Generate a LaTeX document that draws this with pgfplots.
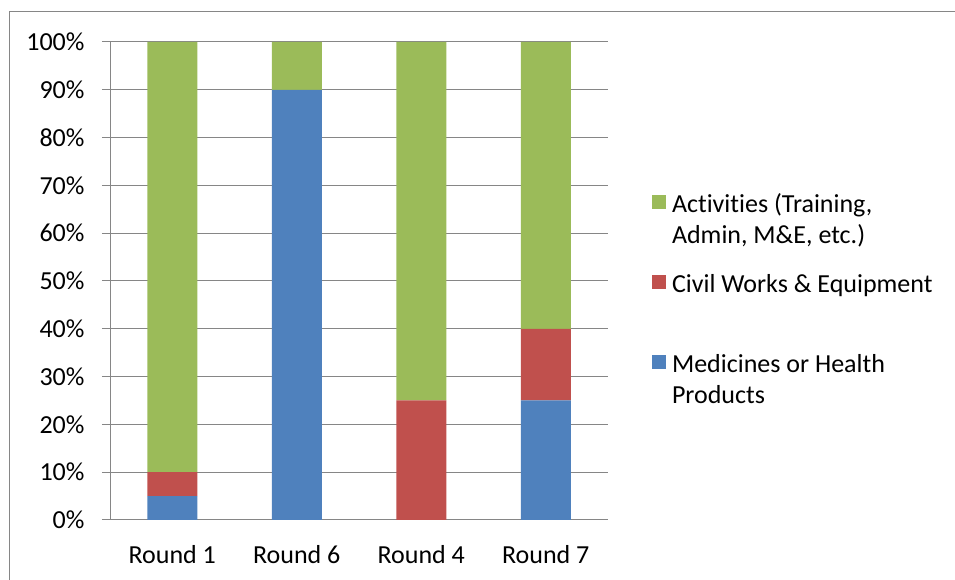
\documentclass[border=0pt]{standalone}
\usepackage{fontspec}
\setmainfont{Carlito}[RawFeature={-liga;-clig;-calt;-dlig}]
\usepackage{pgfplots}
\pgfplotsset{compat=1.18}
\definecolor{cblue}{HTML}{4F81BD}
\definecolor{cred}{HTML}{C0504D}
\definecolor{cgreen}{HTML}{9BBB59}
\definecolor{cgrid}{HTML}{868686}
\newcommand{\fs}{\fontsize{26}{31.7}\selectfont}
\begin{document}
\begin{tikzpicture}
\useasboundingbox (0,0) rectangle (955pt,580pt);
\begin{axis}[
  at={(110pt,60pt)}, anchor=south west,
  scale only axis, width=498pt, height=478pt,
  ybar stacked, bar width=50pt,
  xmin=-0.5, xmax=3.5, ymin=0, ymax=100,
  xtick={0,1,2,3},
  xticklabels={Round 1, Round 6, Round 4, Round 7},
  extra x ticks={-0.5,0.5,1.5,2.5,3.5},
  extra x tick labels={},
  extra x tick style={major tick length=9pt, tick style={draw=cgrid, line width=1pt}},
  ytick={0,10,...,100},
  yticklabel={\pgfmathprintnumber{\tick}\%},
  /pgf/number format/assume math mode=true,
  ymajorgrids, grid style={cgrid, line width=1pt},
  axis x line*=bottom, axis y line*=left,
  axis line style={cgrid, line width=1pt, -},
  tick align=outside, major tick length=8pt,
  x tick style={draw=none},
  y tick style={draw=cgrid, line width=1pt},
  ticklabel style={font=\fs, text=black},
  xticklabel style={yshift=-14pt},
  yticklabel style={xshift=-14pt},
  reverse legend,
  legend cell align=left,
  legend image code/.code={\fill[#1, draw=none] (0pt,34.7pt) rectangle (14pt,48.7pt);},
  legend style={draw=none, fill=none, at={(1.088,0.691)}, anchor=north west,
    font=\fs, row sep=24.6pt, column sep=6pt, inner sep=0pt,
    cells={anchor=base west}, nodes={inner sep=0pt, align=left}},
]
\addplot[fill=cblue, draw=none] coordinates {(0,5) (1,90) (2,0) (3,25)};
\addlegendentry{Medicines or Health\strut\\Products\strut}
\addplot[fill=cred, draw=none] coordinates {(0,5) (1,0) (2,25) (3,15)};
\addlegendentry{Civil Works \& Equipment\strut\\\strut}
\addplot[fill=cgreen, draw=none] coordinates {(0,90) (1,10) (2,75) (3,60)};
\addlegendentry{Activities (Training,\strut\\Admin, M\&E, etc.)\strut}
\end{axis}
\draw[cgrid, line width=1pt] (9pt,-5pt) |- (965pt,568pt);
\end{tikzpicture}
\end{document}
